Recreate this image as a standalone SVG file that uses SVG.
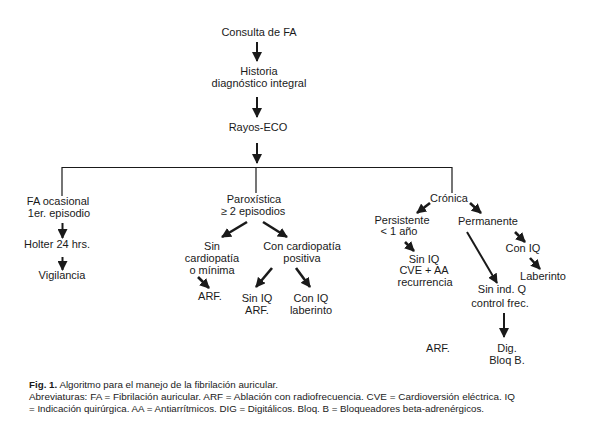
<svg xmlns="http://www.w3.org/2000/svg" width="596" height="426" viewBox="0 0 596 426">
<defs>
<marker id="ah" markerUnits="userSpaceOnUse" markerWidth="10" markerHeight="10" refX="9" refY="5" orient="auto">
<path d="M0,0 L10,5 L0,10 z" fill="#1a1a1a"/>
</marker>
<style>
text{font-family:"Liberation Sans",Arial,sans-serif;font-size:11px;fill:#1a1a1a;text-anchor:middle}
.cap{font-size:9px;text-anchor:start}
.b{font-weight:bold}
.ln{stroke:#1a1a1a;stroke-width:1.2;fill:none}
.ar{stroke:#1a1a1a;stroke-width:2;fill:none;marker-end:url(#ah)}
.ard{stroke:#1a1a1a;stroke-width:2.6;fill:none;marker-end:url(#ah)}
</style>
</defs>
<rect width="596" height="426" fill="#ffffff"/>
<g id="connectors">
<line class="ar" x1="257" y1="42" x2="257" y2="61"/>
<line class="ar" x1="257" y1="97" x2="257" y2="117"/>
<line class="ar" x1="257" y1="143" x2="257" y2="163"/>
<polyline class="ln" points="62,196 62,167.5 452,167.5 452,193"/>
<line class="ln" x1="256" y1="167.5" x2="256" y2="193"/>
<line class="ar" x1="62.5" y1="223" x2="62.5" y2="238"/>
<line class="ar" x1="62.5" y1="257" x2="62.5" y2="270"/>
<line class="ard" x1="247" y1="222" x2="222" y2="237"/>
<line class="ard" x1="263" y1="222" x2="287" y2="237"/>
<line class="ard" x1="198" y1="277" x2="209" y2="288"/>
<line class="ard" x1="272" y1="268" x2="256" y2="287"/>
<line class="ard" x1="296" y1="268" x2="310" y2="287"/>
<line class="ard" x1="430" y1="203" x2="417" y2="213"/>
<line class="ard" x1="470" y1="203" x2="481" y2="213"/>
<line class="ard" x1="405" y1="242" x2="414" y2="251"/>
<line class="ard" x1="515" y1="232" x2="525" y2="242"/>
<line class="ard" x1="530" y1="258" x2="540" y2="269"/>
<line class="ar" x1="467" y1="232" x2="497" y2="283"/>
<line class="ar" x1="504" y1="313" x2="504" y2="337"/>
</g>
<g id="consulta"><text x="259" y="36">Consulta de FA</text></g>
<g id="historia"><text x="259" y="75">Historia</text><text x="259" y="87">diagnóstico integral</text></g>
<g id="rayos"><text x="258" y="131">Rayos-ECO</text></g>
<g id="fa-ocasional"><text x="58" y="205">FA ocasional</text><text x="59" y="217">1er. episodio</text></g>
<g id="holter"><text x="57" y="248">Holter 24 hrs.</text></g>
<g id="vigilancia"><text x="62" y="279">Vigilancia</text></g>
<g id="paroxistica"><text x="254" y="203">Paroxística</text><text x="253" y="215">≥ 2 episodios</text></g>
<g id="sin-cardiopatia"><text x="212" y="250">Sin</text><text x="212" y="262">cardiopatía</text><text x="212" y="274">o mínima</text></g>
<g id="con-cardiopatia"><text x="302" y="250">Con cardiopatía</text><text x="302" y="262">positiva</text></g>
<g id="arf1"><text x="210" y="300">ARF.</text></g>
<g id="sin-iq-arf"><text x="257" y="302">Sin IQ</text><text x="257" y="314">ARF.</text></g>
<g id="con-iq-laberinto"><text x="311" y="302">Con IQ</text><text x="311" y="314">laberinto</text></g>
<g id="cronica"><text x="449" y="202">Crónica</text></g>
<g id="persistente"><text x="402" y="224">Persistente</text><text x="399" y="235">&lt; 1 año</text></g>
<g id="sin-iq-cve"><text x="424" y="263">Sin IQ</text><text x="424" y="274">CVE + AA</text><text x="425" y="286">recurrencia</text></g>
<g id="permanente"><text x="488" y="225">Permanente</text></g>
<g id="con-iq"><text x="523" y="252">Con IQ</text></g>
<g id="laberinto"><text x="543" y="280">Laberinto</text></g>
<g id="sin-ind-q"><text x="502" y="293">Sin ind. Q</text><text x="500" y="307">control frec.</text></g>
<g id="arf2"><text x="438" y="352">ARF.</text></g>
<g id="dig"><text x="507" y="352">Dig.</text><text x="507" y="364">Bloq B.</text></g>
<g id="caption">
<text class="cap" x="29" y="388" textLength="249" lengthAdjust="spacingAndGlyphs"><tspan class="b">Fig. 1.</tspan> Algoritmo para el manejo de la fibrilación auricular.</text>
<text class="cap" x="29" y="400" textLength="486" lengthAdjust="spacingAndGlyphs">Abreviaturas: FA = Fibrilación auricular. ARF = Ablación con radiofrecuencia. CVE = Cardioversión eléctrica. IQ</text>
<text class="cap" x="29" y="412" textLength="455" lengthAdjust="spacingAndGlyphs">= Indicación quirúrgica. AA = Antiarrítmicos. DIG = Digitálicos. Bloq. B = Bloqueadores beta-adrenérgicos.</text>
</g>
</svg>
